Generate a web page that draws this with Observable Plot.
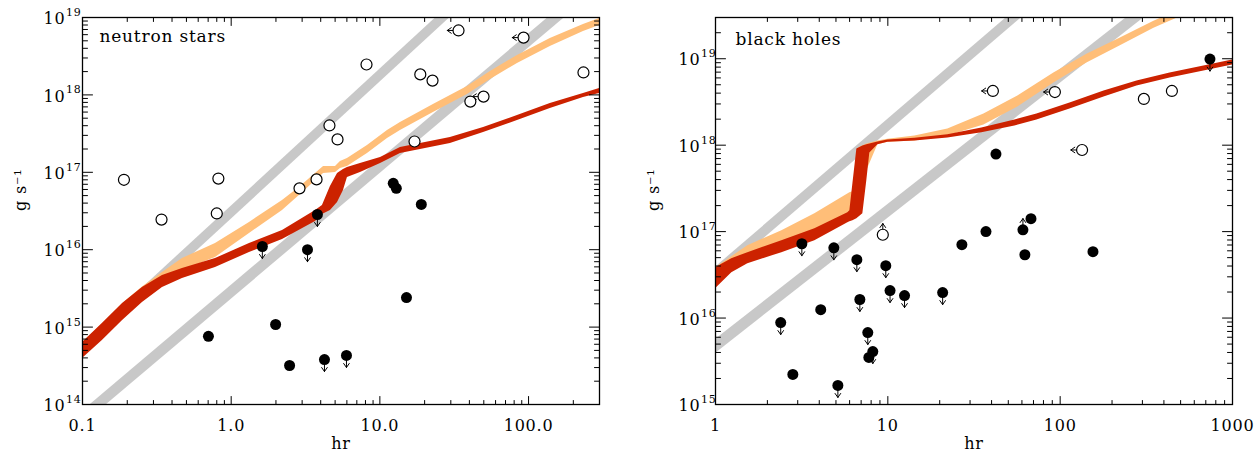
<!DOCTYPE html>
<html><head><meta charset="utf-8">
<script src="https://cdn.jsdelivr.net/npm/d3@7"></script>
<script src="https://cdn.jsdelivr.net/npm/@observablehq/plot@0.6"></script>
<style>
body{margin:0;background:#fff;}
#wrap{display:flex;width:1256px;height:453px;}
</style></head><body><div id="wrap"></div>
<script>
// ---------- neutron stars panel ----------
const nsXTicks = [0.1, 1, 10, 100];
const nsXLabels = ["0.1", "1.0", "10.0", "100.0"];
const nsYTicks = [1e14, 1e15, 1e16, 1e17, 1e18, 1e19];

const nsGrayAx = [0.1, 30], nsGrayAlo = [4.2e14, 1.02e19], nsGrayAhi = [6.2e14, 1.5e19];
const nsGrayBx = [0.1, 200], nsGrayBlo = [5.45e13, 1.24e19], nsGrayBhi = [8.2e13, 1.88e19];

const nsOrangeX  = [0.1, 0.136, 0.186, 0.253, 0.345, 0.470, 0.784, 1.327, 2.213, 2.924, 4.18, 5.03, 5.43, 6.05, 8.25, 11.25, 13.75, 22.9, 38.8, 55.4, 84.2, 140, 234, 300];
const nsOrangeLo = [4.17e14, 7.12e14, 1.29e15, 2.34e15, 3.77e15, 5.39e15, 7.93e15, 1.62e16, 3.21e16, 5.17e16, 9.65e16, 9.94e16, 1.12e17, 1.19e17, 1.75e17, 2.73e17, 3.47e17, 5.93e17, 1.01e18, 1.58e18, 2.55e18, 4.22e18, 6.59e18, 7.88e18];
const nsOrangeHi = [6.3e14, 1.1e15, 2.0e15, 3.3e15, 5.07e15, 7.69e15, 1.20e16, 2.25e16, 4.33e16, 6.56e16, 1.19e17, 1.19e17, 1.38e17, 1.51e17, 2.22e17, 3.47e17, 4.40e17, 7.52e17, 1.28e18, 2.01e18, 3.23e18, 5.35e18, 8.11e18, 9.71e18];

const nsRedX  = [0.1, 0.136, 0.186, 0.253, 0.345, 0.470, 0.784, 1.327, 2.213, 3.69, 4.11, 4.65, 5.19, 5.69, 6.05, 7.40, 10.1, 13.75, 29.8, 49.8, 84.2, 140, 234, 300];
const nsRedLo = [3.93e14, 6.71e14, 1.217e15, 2.08e15, 3.25e15, 4.25e15, 5.89e15, 9.20e15, 1.355e16, 2.31e16, 2.85e16, 3.21e16, 4.07e16, 5.82e16, 8.57e16, 9.94e16, 1.30e17, 1.75e17, 2.36e17, 3.27e17, 4.67e17, 6.67e17, 9.25e17, 1.04e18];
const nsRedHi = [6.32e14, 1.11e15, 2.02e15, 3.25e15, 4.64e15, 5.71e15, 7.69e15, 1.20e16, 1.77e16, 3.21e16, 3.73e16, 6.56e16, 9.66e16, 1.087e17, 1.153e17, 1.30e17, 1.55e17, 2.09e17, 2.82e17, 3.80e17, 5.42e17, 7.74e17, 1.04e18, 1.21e18];

// [period hr, rate g/s, limit: L=left, D=down, U=up]
const nsOpen = [
  [0.19, 8.0e16, ""], [0.34, 2.45e16, ""], [0.82, 8.3e16, ""], [0.80, 2.94e16, ""],
  [2.88, 6.2e16, ""], [3.75, 8.1e16, ""], [33.8, 6.8e18, "L"], [92.5, 5.5e18, "L"],
  [8.13, 2.47e18, ""], [18.7, 1.84e18, ""], [22.6, 1.53e18, ""], [234, 1.95e18, ""],
  [49.8, 9.5e17, "L"], [40.6, 8.2e17, ""], [4.58, 4.03e17, ""], [5.19, 2.66e17, ""], [17.1, 2.5e17, ""]
];
const nsFilled = [
  [3.80, 2.85e16, "D"], [12.3, 7.2e16, ""], [12.9, 6.2e16, ""], [19.0, 3.84e16, ""],
  [1.62, 1.1e16, "D"], [3.26, 1.0e16, "D"], [1.99, 1.08e15, ""], [0.703, 7.6e14, ""],
  [2.47, 3.19e14, ""], [15.1, 2.41e15, ""], [4.24, 3.81e14, "D"], [5.96, 4.3e14, "D"]
];

// ---------- black holes panel ----------
const bhXTicks = [1, 10, 100, 1000];
const bhXLabels = ["1", "10", "100", "1000"];
const bhYTicks = [1e15, 1e16, 1e17, 1e18, 1e19];

const bhGrayAx = [1, 80], bhGrayAlo = [2.75e16, 4.93e19], bhGrayAhi = [3.88e16, 6.97e19];
const bhGrayBx = [1, 400], bhGrayBlo = [3.9e15, 4.52e19], bhGrayBhi = [5.64e15, 6.53e19];

const bhOrangeX  = [1, 1.243, 1.540, 2.426, 3.77, 6.02, 6.27, 6.79, 7.55, 8.75, 10.0, 14.35, 22.3, 36.1, 56.8, 91.9, 142.9, 222, 350, 574];
const bhOrangeLo = [2.86e16, 3.73e16, 4.86e16, 6.69e16, 9.46e16, 1.49e17, 1.57e17, 1.99e17, 5.05e17, 1.01e18, 1.08e18, 1.12e18, 1.28e18, 1.71e18, 2.77e18, 5.24e18, 8.92e18, 1.40e19, 2.26e19, 3.46e19];
const bhOrangeHi = [3.83e16, 5.13e16, 6.87e16, 1.025e17, 1.61e17, 2.81e17, 2.89e17, 9.31e17, 1.035e18, 1.12e18, 1.17e18, 1.28e18, 1.54e18, 2.30e18, 3.71e18, 6.84e18, 1.13e19, 1.73e19, 2.72e19, 4.17e19];

const bhRedX  = [1, 1.243, 1.540, 2.426, 3.77, 5.86, 6.02, 6.27, 6.61, 7.16, 7.55, 7.86, 8.75, 10.0, 14.35, 22.3, 35.1, 54.6, 73.3, 114, 179.6, 279, 434, 682, 1000];
const bhRedLo = [2.19e16, 3.35e16, 4.26e16, 5.71e16, 7.85e16, 1.27e17, 1.30e17, 1.34e17, 1.41e17, 1.61e17, 3.87e17, 8.14e17, 1.01e18, 1.08e18, 1.12e18, 1.21e18, 1.39e18, 1.67e18, 1.96e18, 2.62e18, 3.61e18, 4.84e18, 5.98e18, 7.21e18, 8.45e18];
const bhRedHi = [3.83e16, 4.86e16, 5.71e16, 7.85e16, 1.08e17, 1.65e17, 1.74e17, 3.57e17, 9.06e17, 9.81e17, 1.01e18, 1.035e18, 1.09e18, 1.15e18, 1.20e18, 1.32e18, 1.58e18, 1.96e18, 2.30e18, 3.08e18, 4.24e18, 5.53e18, 6.84e18, 8.24e18, 9.66e18];

const bhOpen = [
  [40.7, 4.24e18, "L"], [93.2, 4.12e18, "L"], [134, 8.8e17, "L"],
  [306, 3.43e18, ""], [445, 4.24e18, ""], [9.35, 9.2e16, "U"]
];
const bhFilled = [
  [740, 9.9e18, "D"], [42.4, 7.9e17, ""], [37.1, 1.0e17, ""], [60.8, 1.05e17, "U"],
  [67.7, 1.41e17, ""], [26.9, 7.06e16, ""], [62.4, 5.4e16, ""], [155, 5.86e16, ""],
  [20.8, 1.97e16, "D"], [3.17, 7.24e16, "D"], [4.86, 6.5e16, "D"], [6.61, 4.74e16, "D"],
  [9.73, 4.04e16, "D"], [10.3, 2.08e16, "D"], [12.5, 1.82e16, "D"], [6.88, 1.64e16, "D"],
  [4.08, 1.25e16, ""], [2.39, 8.87e15, "D"], [7.65, 6.8e15, "D"], [8.18, 4.1e15, "D"],
  [7.76, 3.5e15, ""], [2.81, 2.23e15, ""], [5.13, 1.66e15, "D"]
];

// ---------- drawing ----------
const GRAY = "#c8c8c8", ORANGE = "#ffbe78", RED = "#cc2200";
const FONT = "DejaVu Serif";
const tickShape = {draw(c, l) { c.moveTo(0, 0); c.lineTo(0, -l); }};
const arrowShape = {draw(c, l) { c.moveTo(0, 0); c.lineTo(0, -l); c.moveTo(-2.8, -l + 4); c.lineTo(0, -l); c.lineTo(2.8, -l + 4); }};
const ROT = {D: 180, U: 0, L: -90};

function minorTicks(lo, hi) {
  const out = [];
  for (let e = Math.floor(Math.log10(lo)); e <= Math.ceil(Math.log10(hi)); e++) {
    for (let m = 2; m <= 9; m++) {
      const v = m * Math.pow(10, e);
      if (v > lo * 1.0001 && v < hi * 0.9999) out.push(v);
    }
  }
  return out;
}
function band(xs, lo, hi, fill) {
  return Plot.areaY(xs.map((_, i) => i), {x: i => xs[i], y1: i => lo[i], y2: i => hi[i], fill, clip: true});
}
// inward tick marks along one side of the frame
function ticksAlong(values, side, len, dom) {
  const o = {length: len, anchor: "start", shape: tickShape, stroke: "black", strokeWidth: 1};
  if (side === "bottom") return Plot.vector(values, {...o, x: d => d, y: () => dom.y[0], rotate: 0});
  if (side === "top") return Plot.vector(values, {...o, x: d => d, y: () => dom.y[1], rotate: 180});
  if (side === "left") return Plot.vector(values, {...o, x: () => dom.x[0], y: d => d, rotate: 90});
  return Plot.vector(values, {...o, x: () => dom.x[1], y: d => d, rotate: -90});
}

function panel(cfg) {
  const dom = {x: cfg.xdom, y: cfg.ydom};
  const xMinor = minorTicks(cfg.xdom[0], cfg.xdom[1]);
  const yMinor = minorTicks(cfg.ydom[0], cfg.ydom[1]);
  const pts = (arr) => arr.map(d => ({x: d[0], y: d[1], lim: d[2]}));
  const open = pts(cfg.open), filled = pts(cfg.filled);
  const arrows = open.concat(filled).filter(d => d.lim);
  return Plot.plot({
    width: 628, height: 453,
    marginLeft: cfg.ml, marginRight: cfg.mr, marginTop: 17, marginBottom: 49,
    x: {type: "log", domain: cfg.xdom, axis: null},
    y: {type: "log", domain: cfg.ydom, axis: null},
    style: {fontFamily: FONT, letterSpacing: "0.8px", background: "white", overflow: "visible"},
    marks: [
      band(cfg.gA[0], cfg.gA[1], cfg.gA[2], GRAY),
      band(cfg.gB[0], cfg.gB[1], cfg.gB[2], GRAY),
      band(cfg.orange[0], cfg.orange[1], cfg.orange[2], ORANGE),
      band(cfg.red[0], cfg.red[1], cfg.red[2], RED),
      Plot.vector(arrows, {x: "x", y: "y", length: d => d.lim === "D" ? 16 : 15, rotate: d => ROT[d.lim], anchor: "start", shape: arrowShape, stroke: "black", strokeWidth: 1}),
      Plot.dot(filled, {x: "x", y: "y", r: 5.5, fill: "black"}),
      Plot.dot(open, {x: "x", y: "y", r: 5.5, fill: "white", stroke: "black", strokeWidth: 1.2}),
      // ticks (inward, all four sides)
      ticksAlong(cfg.xTicks, "bottom", 8, dom),
      ticksAlong(xMinor, "bottom", 4, dom),
      ticksAlong(cfg.xTicks, "top", 8, dom),
      ticksAlong(xMinor, "top", 4, dom),
      ticksAlong(cfg.yTicks, "left", 10, dom),
      ticksAlong(yMinor, "left", 5, dom),
      ticksAlong(cfg.yTicks, "right", 10, dom),
      ticksAlong(yMinor, "right", 5, dom),
      Plot.frame({stroke: "black", strokeWidth: 1.3}),
      // tick labels
      Plot.text(cfg.xTicks, {x: d => d, frameAnchor: "bottom", dy: 21, text: (d, i) => cfg.xLabels[i], fontSize: 16, fill: "black", lineAnchor: "middle"}),
      Plot.text(cfg.yTicks, {y: d => d, frameAnchor: "left", dx: cfg.ydx, dy: 1.5, text: d => "10", textAnchor: "end", fontSize: 16, fill: "black", lineAnchor: "middle"}),
      Plot.text(cfg.yTicks, {y: d => d, frameAnchor: "left", dx: cfg.ydx + 0.5, dy: -5, text: d => String(Math.round(Math.log10(d))), textAnchor: "start", fontSize: 11, fill: "black", lineAnchor: "middle"}),
      // axis titles
      Plot.text(["hr"], {frameAnchor: "bottom", dy: 39.5, text: d => d, fontSize: 16, fill: "black", lineAnchor: "middle"}),
      Plot.text(["g s\u207B\u00B9"], {frameAnchor: "left", dx: -62, rotate: -90, text: d => d, fontSize: 16, fill: "black", lineAnchor: "middle"}),
      // panel title
      Plot.text([cfg.title], {frameAnchor: "top-left", dx: cfg.tdx, dy: cfg.tdy, text: d => d, fontSize: 17, fill: "black", textAnchor: "start", lineAnchor: "middle"})
    ]
  });
}

const wrap = document.getElementById("wrap");
wrap.appendChild(panel({
  ml: 82, mr: 29, xdom: [0.1, 300], ydom: [1e14, 1e19],
  xTicks: nsXTicks, xLabels: nsXLabels, yTicks: nsYTicks, ydx: -17,
  gA: [nsGrayAx, nsGrayAlo, nsGrayAhi], gB: [nsGrayBx, nsGrayBlo, nsGrayBhi],
  orange: [nsOrangeX, nsOrangeLo, nsOrangeHi], red: [nsRedX, nsRedLo, nsRedHi],
  open: nsOpen, filled: nsFilled, title: "neutron stars", tdx: 17, tdy: 19
}));
wrap.appendChild(panel({
  ml: 87, mr: 24, xdom: [1, 1000], ydom: [1e15, 3e19],
  xTicks: bhXTicks, xLabels: bhXLabels, yTicks: bhYTicks, ydx: -15,
  gA: [bhGrayAx, bhGrayAlo, bhGrayAhi], gB: [bhGrayBx, bhGrayBlo, bhGrayBhi],
  orange: [bhOrangeX, bhOrangeLo, bhOrangeHi], red: [bhRedX, bhRedLo, bhRedHi],
  open: bhOpen, filled: bhFilled, title: "black holes", tdx: 20, tdy: 22
}));
</script></body></html>
